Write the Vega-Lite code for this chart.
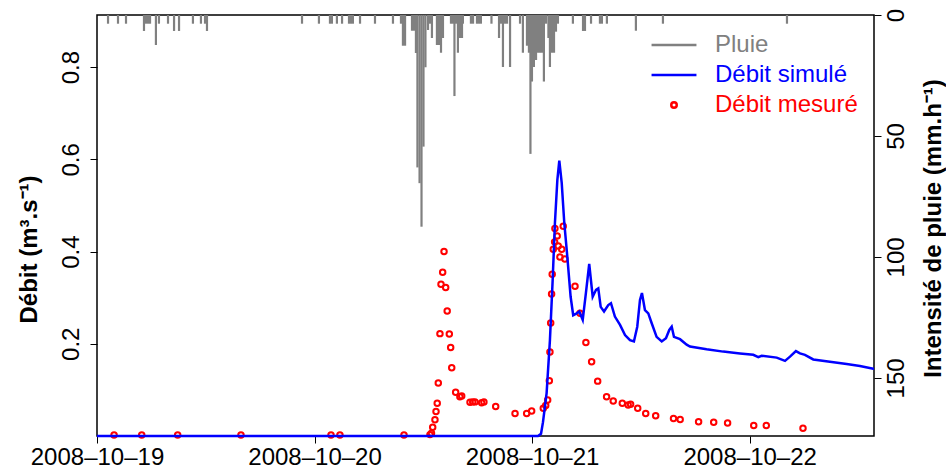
{
  "$schema": "https://vega.github.io/schema/vega-lite/v6.json",
  "width": 777,
  "height": 421,
  "autosize": {"type": "none"},
  "padding": {"left": 97, "top": 15, "right": 72, "bottom": 32},
  "background": "white",
  "datasets": {
    "rain": [
      {"t": "2008-10-19T01:13", "r": 3.6}, {"t": "2008-10-19T02:19", "r": 3.6}, {"t": "2008-10-19T03:12", "r": 3.6},
      {"t": "2008-10-19T05:11", "r": 6.6}, {"t": "2008-10-19T05:24", "r": 3.6}, {"t": "2008-10-19T05:38", "r": 3.6},
      {"t": "2008-10-19T05:51", "r": 3.6}, {"t": "2008-10-19T06:30", "r": 12.4}, {"t": "2008-10-19T06:50", "r": 3.6},
      {"t": "2008-10-19T07:50", "r": 3.6}, {"t": "2008-10-19T08:30", "r": 6.6}, {"t": "2008-10-19T09:03", "r": 6.6},
      {"t": "2008-10-19T10:35", "r": 3.6}, {"t": "2008-10-19T11:28", "r": 3.6}, {"t": "2008-10-19T11:55", "r": 3.6},
      {"t": "2008-10-19T12:08", "r": 6.6}, {"t": "2008-10-19T22:37", "r": 3.6}, {"t": "2008-10-20T00:29", "r": 3.6},
      {"t": "2008-10-20T01:42", "r": 3.6}, {"t": "2008-10-20T01:55", "r": 3.6}, {"t": "2008-10-20T02:28", "r": 3.6},
      {"t": "2008-10-20T03:02", "r": 3.6}, {"t": "2008-10-20T03:48", "r": 3.6}, {"t": "2008-10-20T04:01", "r": 3.6},
      {"t": "2008-10-20T04:14", "r": 3.6}, {"t": "2008-10-20T05:01", "r": 3.6}, {"t": "2008-10-20T06:40", "r": 3.6},
      {"t": "2008-10-20T08:39", "r": 3.6}, {"t": "2008-10-20T09:32", "r": 3.6}, {"t": "2008-10-20T09:45", "r": 12.7},
      {"t": "2008-10-20T09:59", "r": 12.7}, {"t": "2008-10-20T10:45", "r": 6.5}, {"t": "2008-10-20T10:58", "r": 6.5},
      {"t": "2008-10-20T11:11", "r": 15.7}, {"t": "2008-10-20T11:21", "r": 63}, {"t": "2008-10-20T11:35", "r": 69.5},
      {"t": "2008-10-20T11:48", "r": 87.5}, {"t": "2008-10-20T12:01", "r": 54.4}, {"t": "2008-10-20T12:14", "r": 21.6},
      {"t": "2008-10-20T12:31", "r": 6.2}, {"t": "2008-10-20T12:44", "r": 3.6}, {"t": "2008-10-20T12:57", "r": 9.5},
      {"t": "2008-10-20T13:30", "r": 12.4}, {"t": "2008-10-20T13:44", "r": 12.4}, {"t": "2008-10-20T13:57", "r": 15.6},
      {"t": "2008-10-20T14:10", "r": 9.5}, {"t": "2008-10-20T15:03", "r": 3.6}, {"t": "2008-10-20T15:16", "r": 3.6},
      {"t": "2008-10-20T15:26", "r": 33.5}, {"t": "2008-10-20T15:36", "r": 3.6}, {"t": "2008-10-20T15:49", "r": 15.6},
      {"t": "2008-10-20T16:02", "r": 9.5}, {"t": "2008-10-20T16:16", "r": 9.5}, {"t": "2008-10-20T16:22", "r": 3.6},
      {"t": "2008-10-20T17:15", "r": 3.6}, {"t": "2008-10-20T17:29", "r": 3.6}, {"t": "2008-10-20T17:55", "r": 3.6},
      {"t": "2008-10-20T18:08", "r": 3.6}, {"t": "2008-10-20T18:21", "r": 3.6}, {"t": "2008-10-20T19:31", "r": 3.6},
      {"t": "2008-10-20T20:21", "r": 9.5}, {"t": "2008-10-20T20:34", "r": 3.6}, {"t": "2008-10-20T20:47", "r": 21.5},
      {"t": "2008-10-20T21:00", "r": 3.6}, {"t": "2008-10-20T21:14", "r": 3.6}, {"t": "2008-10-20T21:34", "r": 21.5},
      {"t": "2008-10-20T22:40", "r": 3.6}, {"t": "2008-10-20T22:59", "r": 15.6}, {"t": "2008-10-20T23:26", "r": 12.7},
      {"t": "2008-10-20T23:39", "r": 15.6}, {"t": "2008-10-20T23:49", "r": 57.4}, {"t": "2008-10-20T23:59", "r": 27.5},
      {"t": "2008-10-21T00:12", "r": 21.5}, {"t": "2008-10-21T00:26", "r": 18.6}, {"t": "2008-10-21T00:39", "r": 15.6},
      {"t": "2008-10-21T00:52", "r": 15.6}, {"t": "2008-10-21T01:05", "r": 15.6}, {"t": "2008-10-21T01:18", "r": 27.5},
      {"t": "2008-10-21T01:32", "r": 3.6}, {"t": "2008-10-21T01:48", "r": 9.5}, {"t": "2008-10-21T01:58", "r": 21.5},
      {"t": "2008-10-21T02:11", "r": 15.6}, {"t": "2008-10-21T02:25", "r": 15.6}, {"t": "2008-10-21T02:38", "r": 6.9},
      {"t": "2008-10-21T02:51", "r": 3.6}, {"t": "2008-10-21T04:30", "r": 3.6}, {"t": "2008-10-21T05:37", "r": 6.6},
      {"t": "2008-10-21T05:50", "r": 6.6}, {"t": "2008-10-21T06:30", "r": 3.6}, {"t": "2008-10-21T07:29", "r": 3.6},
      {"t": "2008-10-21T07:42", "r": 3.6}, {"t": "2008-10-21T08:15", "r": 3.6}, {"t": "2008-10-21T11:27", "r": 6.5},
      {"t": "2008-10-21T14:26", "r": 3.6}, {"t": "2008-10-22T04:07", "r": 3.6}
    ],
    "sim": [
      {"t": "2008-10-19T00:00", "q": 0}, {"t": "2008-10-21T00:39", "q": 0}, {"t": "2008-10-21T00:59", "q": 0.005},
      {"t": "2008-10-21T01:12", "q": 0.03}, {"t": "2008-10-21T01:36", "q": 0.093}, {"t": "2008-10-21T01:58", "q": 0.208},
      {"t": "2008-10-21T02:16", "q": 0.338}, {"t": "2008-10-21T02:31", "q": 0.462}, {"t": "2008-10-21T02:47", "q": 0.555},
      {"t": "2008-10-21T03:00", "q": 0.597}, {"t": "2008-10-21T03:16", "q": 0.549}, {"t": "2008-10-21T03:33", "q": 0.462},
      {"t": "2008-10-21T03:53", "q": 0.389}, {"t": "2008-10-21T04:15", "q": 0.302}, {"t": "2008-10-21T04:32", "q": 0.262},
      {"t": "2008-10-21T04:55", "q": 0.266}, {"t": "2008-10-21T05:12", "q": 0.27}, {"t": "2008-10-21T05:35", "q": 0.252},
      {"t": "2008-10-21T05:56", "q": 0.31}, {"t": "2008-10-21T06:18", "q": 0.373}, {"t": "2008-10-21T06:41", "q": 0.302},
      {"t": "2008-10-21T07:03", "q": 0.317}, {"t": "2008-10-21T07:18", "q": 0.32}, {"t": "2008-10-21T07:34", "q": 0.28},
      {"t": "2008-10-21T07:56", "q": 0.27}, {"t": "2008-10-21T08:24", "q": 0.284}, {"t": "2008-10-21T08:42", "q": 0.288},
      {"t": "2008-10-21T09:08", "q": 0.259}, {"t": "2008-10-21T09:42", "q": 0.241}, {"t": "2008-10-21T10:15", "q": 0.219},
      {"t": "2008-10-21T10:48", "q": 0.208}, {"t": "2008-10-21T11:14", "q": 0.205}, {"t": "2008-10-21T11:36", "q": 0.237},
      {"t": "2008-10-21T11:54", "q": 0.295}, {"t": "2008-10-21T12:07", "q": 0.31}, {"t": "2008-10-21T12:27", "q": 0.273},
      {"t": "2008-10-21T12:49", "q": 0.266}, {"t": "2008-10-21T13:11", "q": 0.245}, {"t": "2008-10-21T13:44", "q": 0.215},
      {"t": "2008-10-21T14:18", "q": 0.205}, {"t": "2008-10-21T14:46", "q": 0.212}, {"t": "2008-10-21T15:08", "q": 0.23},
      {"t": "2008-10-21T15:24", "q": 0.237}, {"t": "2008-10-21T15:39", "q": 0.215}, {"t": "2008-10-21T16:19", "q": 0.21},
      {"t": "2008-10-21T17:03", "q": 0.198}, {"t": "2008-10-21T17:25", "q": 0.194}, {"t": "2008-10-21T19:15", "q": 0.188},
      {"t": "2008-10-21T21:05", "q": 0.183}, {"t": "2008-10-21T22:56", "q": 0.179}, {"t": "2008-10-22T00:24", "q": 0.176},
      {"t": "2008-10-22T00:57", "q": 0.171}, {"t": "2008-10-22T01:19", "q": 0.174}, {"t": "2008-10-22T02:59", "q": 0.17},
      {"t": "2008-10-22T03:54", "q": 0.163}, {"t": "2008-10-22T04:27", "q": 0.172}, {"t": "2008-10-22T05:06", "q": 0.184},
      {"t": "2008-10-22T05:33", "q": 0.179}, {"t": "2008-10-22T06:06", "q": 0.176}, {"t": "2008-10-22T07:01", "q": 0.166},
      {"t": "2008-10-22T08:51", "q": 0.161}, {"t": "2008-10-22T10:42", "q": 0.156}, {"t": "2008-10-22T12:10", "q": 0.152},
      {"t": "2008-10-22T13:38", "q": 0.146}, {"t": "2008-10-22T13:43", "q": 0.146}
    ],
    "mes": [
      {"t": "2008-10-19T01:53", "q": 0.002, "s": "Débit mesuré"}, {"t": "2008-10-19T04:56", "q": 0.002, "s": "Débit mesuré"},
      {"t": "2008-10-19T08:54", "q": 0.002, "s": "Débit mesuré"}, {"t": "2008-10-19T15:53", "q": 0.002, "s": "Débit mesuré"},
      {"t": "2008-10-20T01:49", "q": 0.002, "s": "Débit mesuré"}, {"t": "2008-10-20T02:48", "q": 0.002, "s": "Débit mesuré"},
      {"t": "2008-10-20T09:52", "q": 0.002, "s": "Débit mesuré"}, {"t": "2008-10-20T12:44", "q": 0.003, "s": "Débit mesuré"},
      {"t": "2008-10-20T12:54", "q": 0.006, "s": "Débit mesuré"}, {"t": "2008-10-20T13:02", "q": 0.019, "s": "Débit mesuré"},
      {"t": "2008-10-20T13:17", "q": 0.035, "s": "Débit mesuré"}, {"t": "2008-10-20T13:24", "q": 0.053, "s": "Débit mesuré"},
      {"t": "2008-10-20T13:32", "q": 0.071, "s": "Débit mesuré"}, {"t": "2008-10-20T13:39", "q": 0.115, "s": "Débit mesuré"},
      {"t": "2008-10-20T13:50", "q": 0.222, "s": "Débit mesuré"}, {"t": "2008-10-20T13:57", "q": 0.329, "s": "Débit mesuré"},
      {"t": "2008-10-20T14:08", "q": 0.355, "s": "Débit mesuré"}, {"t": "2008-10-20T14:17", "q": 0.4, "s": "Débit mesuré"},
      {"t": "2008-10-20T14:28", "q": 0.322, "s": "Débit mesuré"}, {"t": "2008-10-20T14:38", "q": 0.271, "s": "Débit mesuré"},
      {"t": "2008-10-20T14:52", "q": 0.221, "s": "Débit mesuré"}, {"t": "2008-10-20T15:01", "q": 0.192, "s": "Débit mesuré"},
      {"t": "2008-10-20T15:08", "q": 0.148, "s": "Débit mesuré"}, {"t": "2008-10-20T15:34", "q": 0.095, "s": "Débit mesuré"},
      {"t": "2008-10-20T16:02", "q": 0.085, "s": "Débit mesuré"}, {"t": "2008-10-20T16:14", "q": 0.087, "s": "Débit mesuré"},
      {"t": "2008-10-20T17:09", "q": 0.073, "s": "Débit mesuré"}, {"t": "2008-10-20T17:27", "q": 0.074, "s": "Débit mesuré"},
      {"t": "2008-10-20T17:42", "q": 0.074, "s": "Débit mesuré"}, {"t": "2008-10-20T18:26", "q": 0.072, "s": "Débit mesuré"},
      {"t": "2008-10-20T18:41", "q": 0.074, "s": "Débit mesuré"}, {"t": "2008-10-20T19:59", "q": 0.064, "s": "Débit mesuré"},
      {"t": "2008-10-20T22:07", "q": 0.049, "s": "Débit mesuré"}, {"t": "2008-10-20T23:24", "q": 0.049, "s": "Débit mesuré"},
      {"t": "2008-10-20T23:57", "q": 0.054, "s": "Débit mesuré"}, {"t": "2008-10-21T01:14", "q": 0.06, "s": "Débit mesuré"},
      {"t": "2008-10-21T01:30", "q": 0.066, "s": "Débit mesuré"}, {"t": "2008-10-21T01:43", "q": 0.078, "s": "Débit mesuré"},
      {"t": "2008-10-21T01:54", "q": 0.12, "s": "Débit mesuré"}, {"t": "2008-10-21T01:58", "q": 0.182, "s": "Débit mesuré"},
      {"t": "2008-10-21T02:03", "q": 0.245, "s": "Débit mesuré"}, {"t": "2008-10-21T02:09", "q": 0.308, "s": "Débit mesuré"},
      {"t": "2008-10-21T02:13", "q": 0.351, "s": "Débit mesuré"}, {"t": "2008-10-21T02:20", "q": 0.405, "s": "Débit mesuré"},
      {"t": "2008-10-21T02:29", "q": 0.421, "s": "Débit mesuré"}, {"t": "2008-10-21T02:31", "q": 0.45, "s": "Débit mesuré"},
      {"t": "2008-10-21T02:46", "q": 0.434, "s": "Débit mesuré"}, {"t": "2008-10-21T02:53", "q": 0.412, "s": "Débit mesuré"},
      {"t": "2008-10-21T03:04", "q": 0.388, "s": "Débit mesuré"}, {"t": "2008-10-21T03:16", "q": 0.405, "s": "Débit mesuré"},
      {"t": "2008-10-21T03:26", "q": 0.455, "s": "Débit mesuré"}, {"t": "2008-10-21T03:37", "q": 0.384, "s": "Débit mesuré"},
      {"t": "2008-10-21T04:44", "q": 0.325, "s": "Débit mesuré"}, {"t": "2008-10-21T05:17", "q": 0.266, "s": "Débit mesuré"},
      {"t": "2008-10-21T05:56", "q": 0.203, "s": "Débit mesuré"}, {"t": "2008-10-21T06:34", "q": 0.161, "s": "Débit mesuré"},
      {"t": "2008-10-21T07:14", "q": 0.119, "s": "Débit mesuré"}, {"t": "2008-10-21T08:13", "q": 0.085, "s": "Débit mesuré"},
      {"t": "2008-10-21T08:57", "q": 0.076, "s": "Débit mesuré"}, {"t": "2008-10-21T09:57", "q": 0.071, "s": "Débit mesuré"},
      {"t": "2008-10-21T10:36", "q": 0.067, "s": "Débit mesuré"}, {"t": "2008-10-21T10:52", "q": 0.069, "s": "Débit mesuré"},
      {"t": "2008-10-21T11:39", "q": 0.06, "s": "Débit mesuré"}, {"t": "2008-10-21T12:32", "q": 0.049, "s": "Débit mesuré"},
      {"t": "2008-10-21T13:38", "q": 0.044, "s": "Débit mesuré"}, {"t": "2008-10-21T15:36", "q": 0.038, "s": "Débit mesuré"},
      {"t": "2008-10-21T16:20", "q": 0.036, "s": "Débit mesuré"}, {"t": "2008-10-21T18:22", "q": 0.031, "s": "Débit mesuré"},
      {"t": "2008-10-21T20:02", "q": 0.03, "s": "Débit mesuré"}, {"t": "2008-10-21T21:34", "q": 0.028, "s": "Débit mesuré"},
      {"t": "2008-10-22T00:27", "q": 0.023, "s": "Débit mesuré"}, {"t": "2008-10-22T01:50", "q": 0.023, "s": "Débit mesuré"},
      {"t": "2008-10-22T05:53", "q": 0.017, "s": "Débit mesuré"}
    ]
  },
  "encoding": {
    "x": {
      "field": "t", "type": "temporal",
      "scale": {"domain": [{"year": 2008, "month": 10, "date": 19}, {"year": 2008, "month": 10, "date": 22, "hours": 13, "minutes": 43}]},
      "axis": {
        "title": null, "format": "%Y–%m–%d",
        "values": [{"year": 2008, "month": 10, "date": 19}, {"year": 2008, "month": 10, "date": 20}, {"year": 2008, "month": 10, "date": 21}, {"year": 2008, "month": 10, "date": 22}],
        "labelAngle": 0, "labelAlign": "center", "labelBaseline": "top", "labelPadding": 2, "labelFlush": false, "labelOverlap": false
      }
    }
  },
  "layer": [
    {
      "data": {"name": "rain"},
      "mark": {"type": "rule", "color": "#808080", "strokeWidth": 2.2, "strokeCap": "butt"},
      "encoding": {
        "y": {
          "field": "r", "type": "quantitative",
          "scale": {"domain": [0, 174], "reverse": true, "nice": false, "zero": false},
          "axis": {
            "orient": "right", "values": [0, 50, 100, 150],
            "labelAngle": -90, "labelAlign": "center", "labelBaseline": "top", "labelPadding": 3, "labelFlush": false, "labelOverlap": false,
            "title": "Intensité de pluie (mm.h⁻¹)", "titleAngle": -90, "titleAlign": "center", "titleBaseline": "middle", "titleX": 59, "titleY": 213
          }
        },
        "y2": {"datum": 0}
      }
    },
    {
      "encoding": {
        "y": {
          "field": "q", "type": "quantitative",
          "scale": {"domain": [0, 0.913], "nice": false, "zero": false},
          "axis": {
            "orient": "left", "values": [0.2, 0.4, 0.6, 0.8],
            "labelAngle": -90, "labelAlign": "center", "labelBaseline": "bottom", "labelPadding": 7, "labelFlush": false, "labelOverlap": false,
            "title": "Débit (m³.s⁻¹)", "titleAngle": -90, "titleAlign": "center", "titleBaseline": "middle", "titleX": -68, "titleY": 234
          }
        }
      },
      "layer": [
        {
          "data": {"name": "mes"},
          "mark": {"type": "point", "filled": false, "size": 30, "strokeWidth": 2, "opacity": 1},
          "encoding": {
            "color": {
              "field": "s", "type": "nominal",
              "scale": {"domain": ["Pluie", "Débit simulé", "Débit mesuré"], "range": ["#808080", "#0000FF", "#FF0000"]},
              "legend": {
                "title": null, "orient": "none", "legendX": 565, "legendY": 18,
                "labelFontSize": 24, "labelFont": "Liberation Sans", "symbolSize": 30, "symbolStrokeWidth": 2.5,
                "labelOffset": 29, "rowPadding": 6, "padding": 0, "labelLimit": 400,
                "labelColor": {"expr": "scale('color', datum.value)"}
              }
            },
            "shape": {
              "field": "s", "type": "nominal",
              "scale": {"domain": ["Pluie", "Débit simulé", "Débit mesuré"], "range": ["M-8.2,0H8.2", "M-8.2,0H8.2", "circle"]},
              "legend": {
                "title": null, "orient": "none", "legendX": 565, "legendY": 18,
                "labelFontSize": 24, "labelFont": "Liberation Sans", "symbolSize": 30, "symbolStrokeWidth": 2.5,
                "labelOffset": 29, "rowPadding": 6, "padding": 0, "labelLimit": 400,
                "labelColor": {"expr": "scale('color', datum.value)"}
              }
            }
          }
        },
        {
          "data": {"name": "sim"},
          "mark": {"type": "line", "color": "#0000FF", "strokeWidth": 2.5},
          "encoding": {}
        }
      ]
    }
  ],
  "resolve": {"scale": {"y": "independent"}},
  "config": {
    "font": "Liberation Sans",
    "view": {"stroke": "#000000", "strokeWidth": 1.5},
    "axis": {
      "grid": false, "domain": false, "ticks": true, "tickColor": "#000000", "tickSize": 7, "tickWidth": 1,
      "labelFont": "Liberation Sans", "labelFontSize": 24, "labelColor": "#000000",
      "titleFont": "Liberation Sans", "titleFontSize": 24, "titleFontWeight": "bold", "titleColor": "#000000"
    }
  }
}
